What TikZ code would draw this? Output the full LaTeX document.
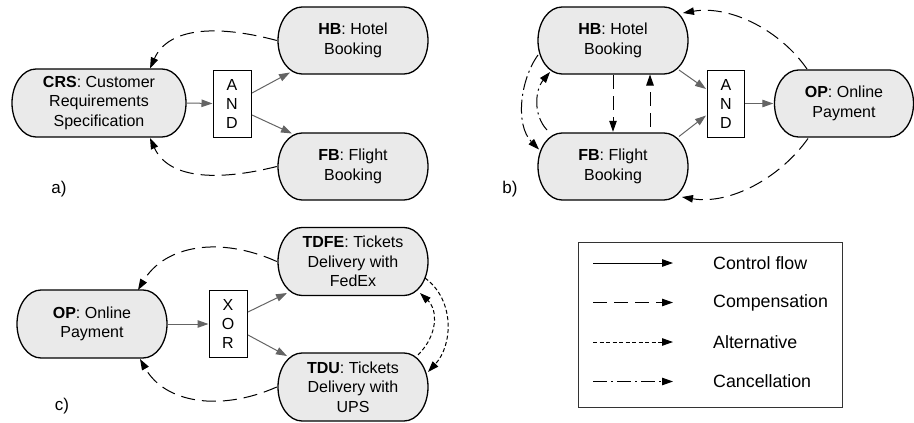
\documentclass[tikz,border=0pt]{standalone}
\usepackage{fontspec}
\setmainfont{Liberation Sans}
\usetikzlibrary{arrows.meta,calc}
\definecolor{taskfill}{RGB}{234,234,234}
\definecolor{flowgray}{RGB}{100,100,100}
\begin{document}
\begin{tikzpicture}[x=1pt,y=-1pt,
  every node/.style={font=\fontsize{16}{19.5}\selectfont},
  % activity: box with elliptical ends, drawn inside a slightly larger node
  task/.style 2 args={minimum width=#1+2pt, minimum height=#2+2pt,
    inner sep=0pt, align=center,
    path picture={
      \path[fill=taskfill, draw=black, line width=1.3pt]
        ([xshift=25pt,yshift=-1pt]path picture bounding box.north west)
        -- ([xshift=-25pt,yshift=-1pt]path picture bounding box.north east)
        arc[start angle=90, end angle=-90, x radius=24pt, y radius=#2/2]
        -- ([xshift=25pt,yshift=1pt]path picture bounding box.south west)
        arc[start angle=270, end angle=90, x radius=24pt, y radius=#2/2]
        -- cycle;
    }},
  gate/.style={draw, line width=1pt, fill=white, minimum width=38pt,
    minimum height=67pt, inner sep=0pt, align=center,
    font=\fontsize{16}{19}\selectfont},
  tipped/.style={-{Triangle[length=11pt,width=7.5pt]}, line width=1pt},
  ctrl/.style={tipped, black},
  flow/.style={tipped, flowgray},
  comp/.style={tipped, black, dash pattern=on 14pt off 7pt},
  alt/.style={tipped, black, dash pattern=on 4pt off 2.5pt},
  cancel/.style={tipped, black, dash pattern=on 14pt off 4pt on 2pt off 4pt},
  legtext/.style={anchor=west, inner sep=0pt, font=\fontsize{17.8}{20}\selectfont},
  panel/.style={font=\fontsize{17}{20}\selectfont}
]
\useasboundingbox (0,0) rectangle (914,423);

% ---------- a) ----------
\node[task={174pt}{68pt}] (crs) at (99,103) {\textbf{CRS}: Customer\\Requirements\\Specification};
\node[gate] (and1) at (232,103.5) {A\\N\\D};
\node[task={150pt}{67pt}] (hb1) at (353,40.5) {\textbf{HB}: Hotel\\Booking};
\node[task={150pt}{67pt}] (fb1) at (353,166.5) {\textbf{FB}: Flight\\Booking};
\node[panel] (la) at (59,189) {a)};

\draw[flow] (crs.east) -- (and1.west);
\draw[flow] ($(and1)+(20,-10.5)$) -- ($(hb1)+(-63,32)$);
\draw[flow] ($(and1)+(20,11.5)$) -- ($(fb1)+(-61,-33)$);
\draw[comp] (hb1.west) .. controls (215,24) and (168,28) .. ($(crs)+(51,-34.5)$);
\draw[comp] (fb1.west) .. controls (215,182) and (168,178) .. ($(crs)+(51,35)$);

% ---------- b) ----------
\node[task={150pt}{67pt}] (hb2) at (613,40.5) {\textbf{HB}: Hotel\\Booking};
\node[task={150pt}{67pt}] (fb2) at (613,166.5) {\textbf{FB}: Flight\\Booking};
\node[gate, minimum width=37pt] (and2) at (726,103.5) {A\\N\\D};
\node[task={139pt}{67pt}] (op2) at (844,103.5) {\textbf{OP}: Online\\Payment};
\node[panel] (lb) at (510,189) {b)};

\draw[flow] ($(hb2)+(66,29.5)$) -- ($(and2)+(-20,-14.5)$);
\draw[flow] ($(fb2)+(66,-30)$) -- ($(and2)+(-20,12)$);
\draw[flow] (and2.east) -- (op2.west);
\draw[comp] (hb2.south) -- (fb2.north);
\draw[comp] ($(fb2)+(37,-40)$) -- ($(hb2)+(37,34)$);
\draw[comp] ($(op2)+(-37,-34.5)$) .. controls (780,30) and (730,5) .. ($(hb2)+(70,-27.5)$);
\draw[comp] ($(op2)+(-36,35)$) .. controls (780,178) and (730,205) .. ($(fb2)+(69,30.5)$);
\draw[cancel] ($(hb2)+(-75,14.5)$) .. controls (520,80) and (515,125) .. ($(fb2)+(-74,-17)$);
\draw[cancel] ($(fb2)+(-66,-36.5)$) .. controls (533,115) and (535,90) .. ($(hb2)+(-63,31.5)$);

% ---------- c) ----------
\node[task={150pt}{68pt}] (opc) at (92,324) {\textbf{OP}: Online\\Payment};
\node[gate] (xor) at (228,324) {X\\O\\R};
\node[task={150pt}{68pt}] (tdfe) at (353,261.5) {\textbf{TDFE}: Tickets\\Delivery with\\FedEx};
\node[task={150pt}{68pt}] (tdu) at (353,387) {\textbf{TDU}: Tickets\\Delivery with\\UPS};
\node[panel] (lc) at (62,406) {c)};

\draw[flow] (opc.east) -- (xor.west);
\draw[flow] ($(xor)+(20,-12)$) -- ($(tdfe)+(-66,31.5)$);
\draw[flow] ($(xor)+(20,11)$) -- ($(tdu)+(-66,-31)$);
\draw[comp] (tdfe.west) .. controls (220,236) and (165,245) .. ($(opc)+(46,-34)$);
\draw[comp] (tdu.west) .. controls (220,412) and (165,403) .. ($(opc)+(48,35)$);
\draw[alt] ($(tdfe)+(72,16.5)$) .. controls (455,300) and (453,345) .. ($(tdu)+(75,-15)$);
\draw[alt] ($(tdu)+(65,-32)$) .. controls (438,335) and (438,310) .. ($(tdfe)+(67,31.5)$);

% ---------- legend ----------
\node[draw=black!80, line width=1pt, minimum width=264pt, minimum height=165pt,
  inner sep=0pt] (legend) at (710,324.5) {};
\foreach \k/\sty/\txt [count=\i] in {ctrl/ctrl/Control flow, comp/comp/Compensation,
    alt/alt/Alternative, cancel/cancel/Cancellation}{
  \coordinate (\k-a) at (593,223.5+39.5*\i);
  \coordinate (\k-b) at (673,223.5+39.5*\i);
  \draw[\sty] (\k-a) -- (\k-b);
  \node[legtext] (\k-t) at (713,223.5+39.5*\i) {\txt};
}
\end{tikzpicture}
\end{document}
